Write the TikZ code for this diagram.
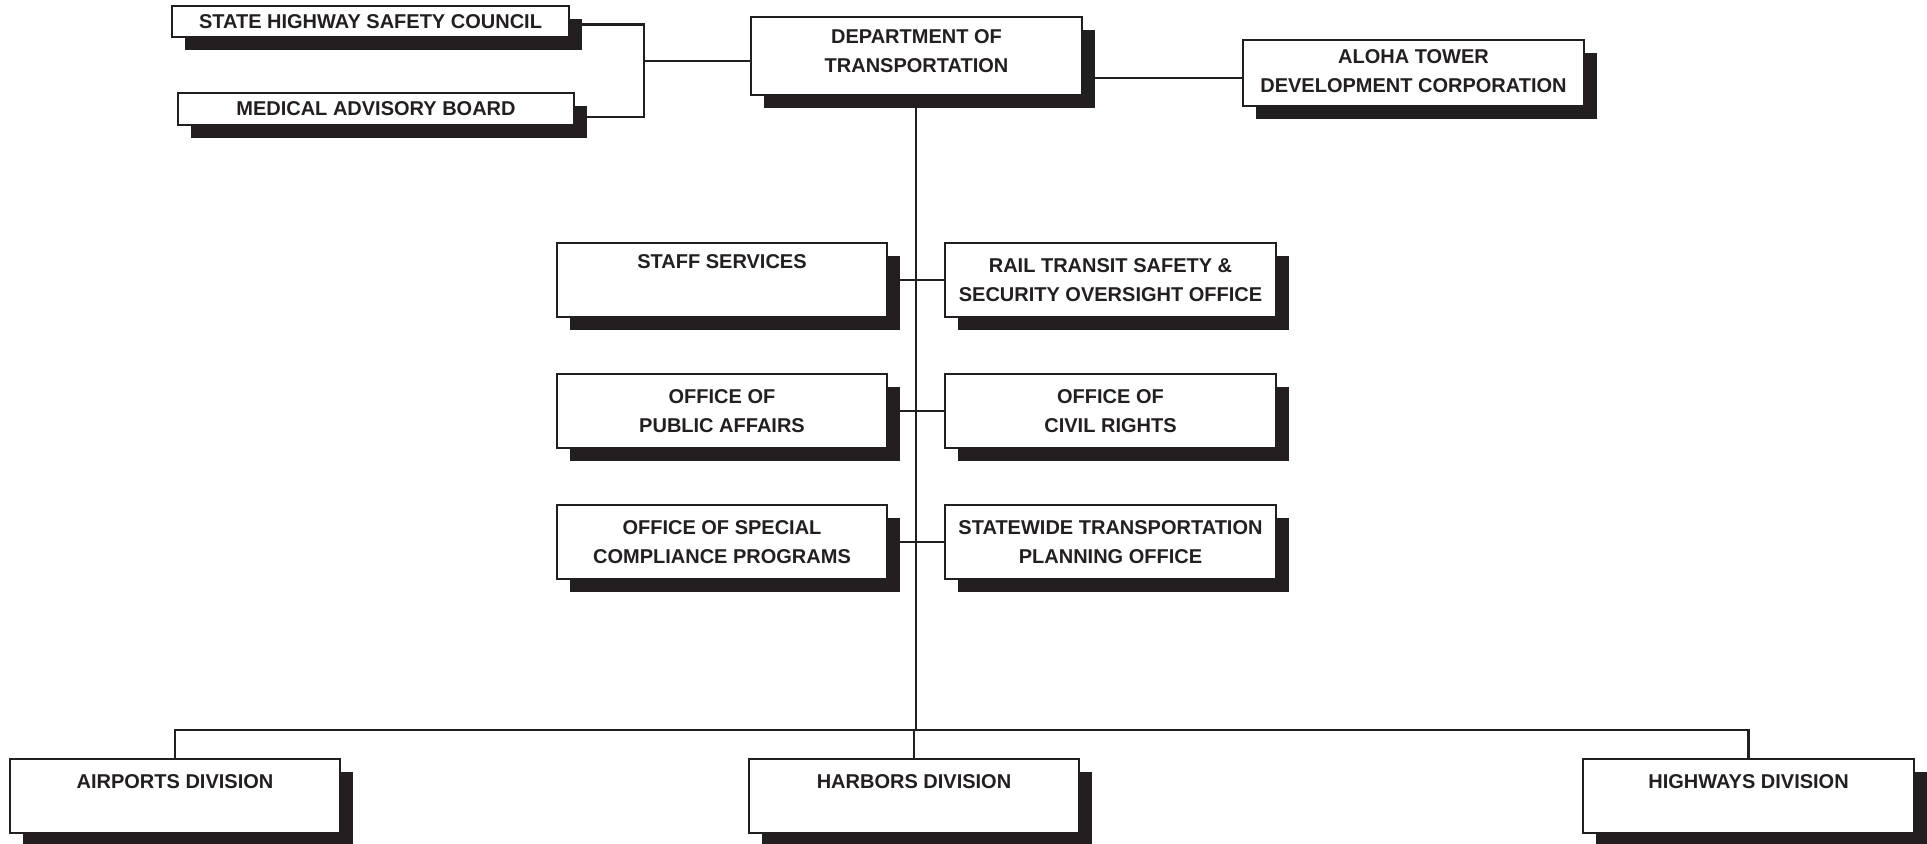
\documentclass[tikz,border=0pt]{standalone}
\usepackage{fontspec}
\setmainfont{Liberation Sans}
\usetikzlibrary{calc,backgrounds}
\definecolor{shadowc}{RGB}{35,31,32}
\newcommand\obox[7][]{%
  \fill[shadowc] ({#3+13},{#4+13}) rectangle ({#5+13},{#6+13});
  \node[box, #1, minimum width={(#5-#3)*0.5pt}, minimum height={(#6-#4)*0.5pt}] (#2) at ({(#3+#5)/2},{(#4+#6)/2}) {#7};
}
\begin{document}
\begin{tikzpicture}[x=0.5pt,y=-0.5pt,
  box/.style={draw=shadowc, line width=1.2pt, fill=white, inner sep=0pt, outer sep=0pt, align=center, text=shadowc,
    font=\fontsize{10}{14.75}\selectfont\bfseries},
  conn/.style={draw=shadowc, line width=1.4pt}]
\useasboundingbox (0,0) rectangle (1927,844);

\obox{shc}{172}{6}{569}{37}{STATE HIGHWAY SAFETY COUNCIL}
\obox{mab}{178}{93}{574}{125}{MEDICAL ADVISORY BOARD}
\obox[text depth=5pt]{dot}{751}{17}{1082}{95}{DEPARTMENT OF\\TRANSPORTATION}
\obox[text depth=2pt]{aloha}{1243}{40}{1584}{106}{ALOHA TOWER\\DEVELOPMENT CORPORATION}
\obox[text depth=4pt]{staff}{557}{243}{887}{317}{STAFF SERVICES\\\mbox{}}
\obox{rail}{945}{243}{1276}{317}{RAIL TRANSIT SAFETY \&\\SECURITY OVERSIGHT OFFICE}
\obox{pub}{557}{374}{887}{448}{OFFICE OF\\PUBLIC AFFAIRS}
\obox{civ}{945}{374}{1276}{448}{OFFICE OF\\CIVIL RIGHTS}
\obox{spec}{557}{505}{887}{579}{OFFICE OF SPECIAL\\COMPLIANCE PROGRAMS}
\obox{stp}{945}{505}{1276}{579}{STATEWIDE TRANSPORTATION\\PLANNING OFFICE}
\obox{air}{10}{759}{340}{833}{AIRPORTS DIVISION\\\mbox{}}
\obox{harb}{749}{759}{1079}{833}{HARBORS DIVISION\\\mbox{}}
\obox{high}{1583}{759}{1914}{833}{HIGHWAYS DIVISION\\\mbox{}}

\coordinate (brk) at (644,61);
\coordinate (bus) at (916,730);
\coordinate (al) at ($(aloha.west)+(0,5)$);
\coordinate (se) at ($(shc.east)+(0,3)$);
\coordinate (me) at ($(mab.east)+(0,8)$);

\begin{scope}[on background layer]
  \draw[conn] (se) -- (se -| brk) -- (me -| brk) -- (me);
  \draw[conn] (brk) -- (brk -| dot.west);
  \draw[conn] (al) -- (al -| dot.east);
  \draw[conn] (dot.south -| bus) -- (bus);
  \draw[conn] (staff.east) -- (rail.west);
  \draw[conn] (pub.east) -- (civ.west);
  \draw[conn] (spec.east) -- (stp.west);
  \draw[conn] (air.north) |- (bus);
  \draw[conn] (high.north) |- (bus);
  \draw[conn] (harb.north) -- (harb.north |- bus);
\end{scope}
\end{tikzpicture}
\end{document}
